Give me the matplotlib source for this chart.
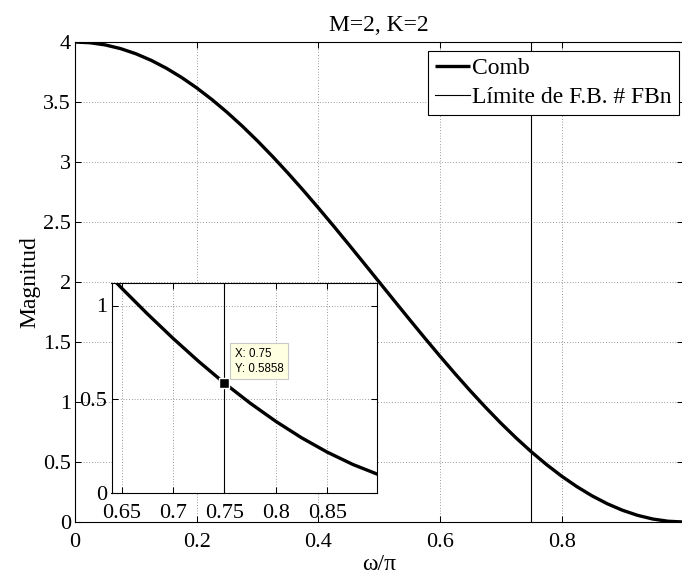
import numpy as np
import matplotlib
matplotlib.use("Agg")
import matplotlib.pyplot as plt
from matplotlib.ticker import FormatStrFormatter

plt.rcParams["font.family"] = ["Liberation Serif", "DejaVu Serif"]
plt.rcParams["font.size"] = 16

# Comb filter magnitude (M=2, K=2) sampled on normalised frequency
omega = np.linspace(0.0, 1.0, 41)
magnitude = [
    4.0000, 3.9938, 3.9754, 3.9447, 3.9021, 3.8478, 3.7820, 3.7053, 3.6180, 3.5208,
    3.4142, 3.2989, 3.1756, 3.0450, 2.9080, 2.7654, 2.6180, 2.4669, 2.3129, 2.1569,
    2.0000, 1.8431, 1.6871, 1.5331, 1.3820, 1.2346, 1.0920, 0.9550, 0.8244, 0.7011,
    0.5858, 0.4792, 0.3820, 0.2947, 0.2180, 0.1522, 0.0979, 0.0553, 0.0246, 0.0062,
    0.0000,
]
band_edge = 0.75
tip_x, tip_y = 0.75, 0.5858

x_ticks = [0, 0.2, 0.4, 0.6, 0.8]
y_ticks = [0, 0.5, 1, 1.5, 2, 2.5, 3, 3.5, 4]
inset_x_ticks = [0.65, 0.7, 0.75, 0.8, 0.85]
inset_y_ticks = [0, 0.5, 1]

labels = ["Comb", "Límite de F.B. # FBn"]

grid_kw = dict(color="0.25", linewidth=0.5, linestyle=(0, (1, 3)))


def style_axes(ax):
    ax.tick_params(direction="in", top=True, right=True, length=4, width=0.75,
                   labelsize=16)
    for s in ax.spines.values():
        s.set_linewidth(0.8)
    ax.grid(True, **grid_kw)
    ax.xaxis.set_major_formatter(FormatStrFormatter("%g"))
    ax.yaxis.set_major_formatter(FormatStrFormatter("%g"))


fig = plt.figure(figsize=(6.82, 5.75), dpi=100)
ax = fig.add_axes([75 / 682, 53 / 575, 608.3 / 682, 480 / 575])

ax.plot(omega, magnitude, color="black", linewidth=2.4, label=labels[0],
        solid_capstyle="butt")
ax.axvline(band_edge, color="black", linewidth=0.8, label=labels[1])
ax.set_xlim(0, 1)
ax.set_ylim(0, 4)
ax.set_xticks(x_ticks)
ax.set_yticks(y_ticks)
style_axes(ax)
ax.tick_params(axis="x", pad=8)
ax.tick_params(axis="y", pad=3)
ax.set_title("M=2, K=2", fontsize=17, pad=8)
ax.set_xlabel("ω/π", fontsize=17, labelpad=1)
ax.set_ylabel("Magnitud", fontsize=17, labelpad=2)

leg = ax.legend(loc="upper right", bbox_to_anchor=(679 / 682, (575 - 50.7) / 575),
                bbox_transform=fig.transFigure, borderaxespad=0, fancybox=False,
                framealpha=1, edgecolor="black", fontsize=17, handlelength=1.5,
                handletextpad=0.1, borderpad=0.3, labelspacing=0.3)
leg.get_frame().set_linewidth(0.8)

# Zoomed view around the band edge
axi = fig.add_axes([111.5 / 682, 82 / 575, 265.5 / 682, 210 / 575])
axi.set_facecolor("white")
axi.plot(omega, magnitude, color="black", linewidth=2.4)
axi.axvline(band_edge, color="black", linewidth=0.8)
axi.set_xlim(0.64, 0.8985)
axi.set_ylim(0, 1.12)
axi.set_xticks(inset_x_ticks)
axi.set_yticks(inset_y_ticks)
style_axes(axi)
axi.tick_params(axis="x", pad=8)
axi.tick_params(axis="y", pad=3)

axi.plot([tip_x], [tip_y], marker="s", markersize=6.5, color="black",
         markeredgecolor="white", markeredgewidth=1.0, zorder=5)
axi.annotate(f"X: {tip_x:g}\nY: {tip_y:.4f}", xy=(tip_x, tip_y),
             xytext=(7.6, 6.0), textcoords="offset points",
             ha="left", va="bottom", fontsize=8.3, family="Liberation Sans",
             linespacing=1.35,
             bbox=dict(boxstyle="square,pad=0.4", facecolor="#ffffe1",
                       edgecolor="#c8c8c8", linewidth=0.8), zorder=6)

fig.savefig("out.png", dpi=100)
